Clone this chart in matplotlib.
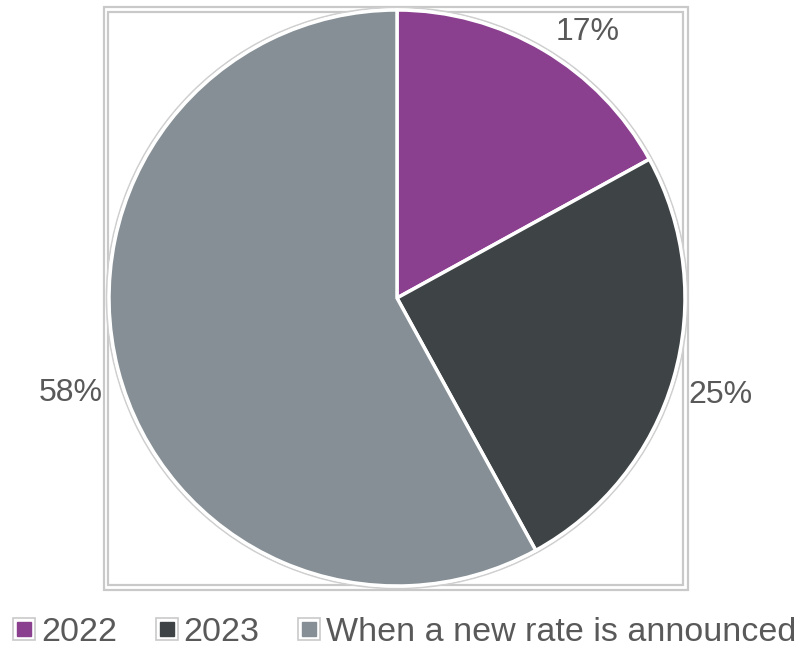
import numpy as np
import matplotlib.pyplot as plt
from matplotlib.patches import Rectangle, Circle
from matplotlib.lines import Line2D
from matplotlib.legend_handler import HandlerTuple

plt.rcParams['font.family'] = ['Liberation Sans', 'DejaVu Sans']

# Datos
categorias = ['2022', '2023', 'When a new rate is announced']
valores = [17, 25, 58]
colores = ['#8B3F8F', '#3E4346', '#858F95']

texto_color = '#595959'
borde_gris = '#C9C9C9'

fig = plt.figure(figsize=(8.02, 6.49), dpi=100)
ax = fig.add_axes([0, 0, 1, 1])
# ejes en pixeles, centro de la tarta en el origen
cx, cy, r = 397, 298, 288

# marco doble alrededor del area de la grafica
ax.add_patch(Rectangle((104 - cx, cy - 590), 584, 583, fill=False,
                       edgecolor=borde_gris, lw=1.6))
ax.add_patch(Rectangle((108 - cx, cy - 585), 575, 573, fill=False,
                       edgecolor=borde_gris, lw=1.6))

# contorno gris de la tarta
ax.add_patch(Circle((0, 0), r + 2.5, fill=False, edgecolor='#CFCFCF', lw=1.2))

wedges, _ = ax.pie(valores, colors=colores, startangle=90, counterclock=False,
                   radius=r, center=(0, 0), frame=True,
                   wedgeprops=dict(edgecolor='white', linewidth=2.5))
ax.set_xlim(-cx, 802 - cx)
ax.set_ylim(-(649 - cy), cy)
ax.set_aspect('equal')
ax.axis('off')

# etiquetas de porcentaje fuera de cada sector (la de 17% se baja para no salirse)
desplazamientos = [(19, -24), (0, -3), (0, -11)]
for w, v, off in zip(wedges, valores, desplazamientos):
    ang = np.deg2rad((w.theta1 + w.theta2) / 2)
    x, y = 1.17 * r * np.cos(ang), 1.17 * r * np.sin(ang)
    ax.annotate(f'{v}%', (x, y), xytext=off, textcoords='offset pixels',
                ha='center', va='center', fontsize=23, color=texto_color)

# leyenda con cuadros de borde gris
handles = []
for c in colores:
    fondo = Line2D([], [], linestyle='none', marker='s', markersize=16.5,
                   markerfacecolor='white', markeredgecolor=borde_gris, markeredgewidth=1.2)
    relleno = Line2D([], [], linestyle='none', marker='s', markersize=10,
                     markerfacecolor=c, markeredgecolor=c)
    handles.append((fondo, relleno))

fig.legend(handles, categorias, loc='center', bbox_to_anchor=(0.504, 0.026),
           ncol=3, frameon=False, fontsize=24.5, labelcolor=texto_color,
           handler_map={tuple: HandlerTuple(ndivide=1)},
           handlelength=0.7, handletextpad=0.15, columnspacing=1.1,
           borderpad=0, borderaxespad=0)

fig.savefig('out.png', dpi=100)
